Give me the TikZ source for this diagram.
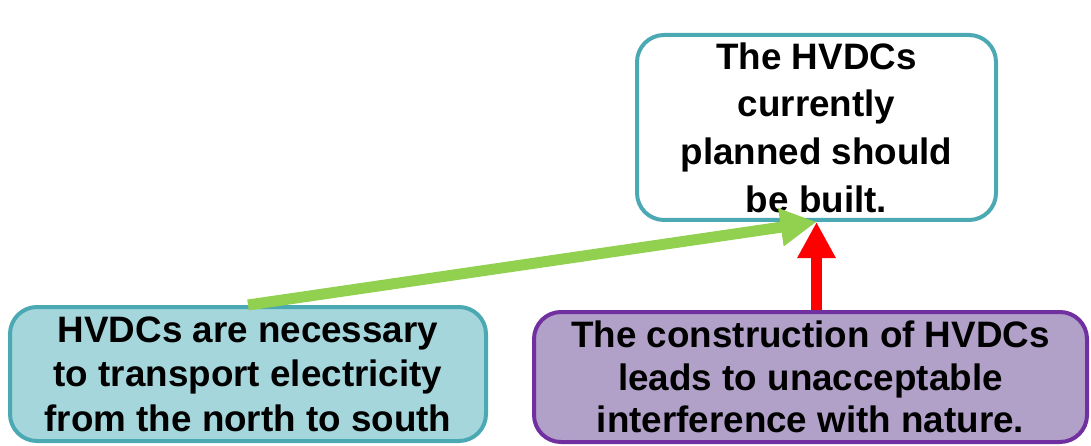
\documentclass[tikz,border=0pt]{standalone}
\usepackage{fontspec}
\setmainfont{Liberation Sans}
\usetikzlibrary{arrows.meta}

\definecolor{tealline}{HTML}{4BA9B3}
\definecolor{tealfill}{HTML}{A5D6DB}
\definecolor{purpline}{HTML}{7030A0}
\definecolor{purpfill}{HTML}{B1A0C7}
\definecolor{greenarrow}{HTML}{92D050}

\tikzset{
    claim/.style={draw, rounded corners=27pt, line width=4pt, align=center, inner sep=0pt,
        font=\fontsize{36.8}{#1}\selectfont\bfseries},
    support/.style={line width=11pt, -{Triangle[length=36pt,width=36pt]}},
}

\begin{document}
\begin{tikzpicture}[x=1pt, y=-1pt]
    \useasboundingbox (0,0) rectangle (1091,446);

    \node[claim=47.7, fill=white, draw=tealline, minimum width=359pt, minimum height=185pt]
        (built) at (816.5,127.5) {The HVDCs\\currently\\planned should\\be built.};
    \node[claim=44.5, fill=tealfill, draw=tealline, minimum width=476pt, minimum height=134pt]
        (necessary) at (248,374) {HVDCs are necessary\\to transport electricity\\from the north to south};
    \node[claim=42.5, fill=purpfill, draw=purpline, minimum width=553pt, minimum height=130pt]
        (nature) at (810.5,377) {The construction of HVDCs\\leads to unacceptable\\interference with nature.};

    \draw[support, greenarrow] (necessary.north) -- (built.south);
    \draw[support, red] (built.south |- nature.north) -- (built.south);

\end{tikzpicture}
\end{document}
